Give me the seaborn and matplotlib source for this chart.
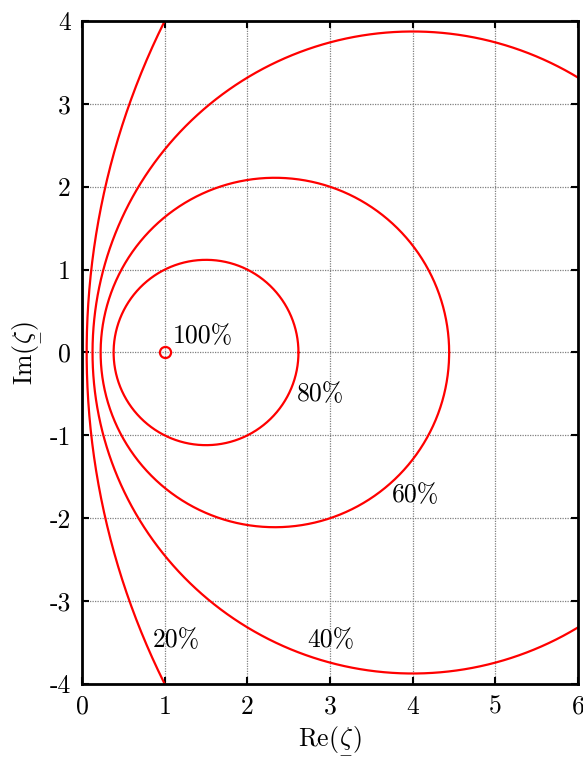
import numpy as np
import pandas as pd
import matplotlib
matplotlib.use("Agg")
import matplotlib.pyplot as plt
import seaborn as sns

# cercles de rendement constant (centre sur l'axe reel, rayon)
rendements = ["20%", "40%", "60%", "80%"]
centres = [9.0, 4.0, 2.333, 1.5]
rayons = [8.944, 3.873, 2.108, 1.118]

# positions des etiquettes
etiq_x = [0.86, 2.72, 3.75, 2.6]
etiq_y = [-3.47, -3.47, -1.72, -0.5]

point_100 = (1.0, 0.0)

x_ticks = [0, 1, 2, 3, 4, 5, 6]
y_ticks = [-4, -3, -2, -1, 0, 1, 2, 3, 4]

sns.set_style("white")
plt.rcParams["font.family"] = ["cmr10"]
plt.rcParams["mathtext.fontset"] = "cm"
plt.rcParams["axes.unicode_minus"] = False
plt.rcParams["axes.formatter.use_mathtext"] = True
plt.rcParams["text.color"] = "black"
plt.rcParams["axes.labelcolor"] = "black"
plt.rcParams["xtick.color"] = "black"
plt.rcParams["ytick.color"] = "black"

fs = 18.5

fig = plt.figure(figsize=(5.83, 7.57), dpi=100)
ax = fig.add_axes([0.1407, 0.0964, 0.8508, 0.8759])

t = np.linspace(0, 2 * np.pi, 1000)
for nom, c, r in zip(rendements, centres, rayons):
    df = pd.DataFrame({"x": c + r * np.cos(t), "y": r * np.sin(t)})
    sns.lineplot(data=df, x="x", y="y", sort=False, estimator=None,
                 color="red", lw=1.6, ax=ax)

ax.plot(*point_100, marker="o", ms=8, mfc="none", mec="red", mew=1.6)
ax.text(point_100[0] + 0.1, 0.2, "100%", fontsize=fs, ha="left", va="center")
for nom, x, y in zip(rendements, etiq_x, etiq_y):
    ax.text(x, y, nom, fontsize=fs, ha="left", va="center")

ax.set_xlim(0, 6)
ax.set_ylim(-4, 4)
ax.set_xticks(x_ticks)
ax.set_yticks(y_ticks)
ax.set_xticklabels([str(v) for v in x_ticks], fontsize=fs)
ax.set_yticklabels([str(v) for v in y_ticks], fontsize=fs)
ax.set_xlabel(r"Re($\underset{-}{\zeta}$)", fontsize=fs, labelpad=4)
ax.set_ylabel(r"Im($\underset{-}{\zeta}$)", fontsize=fs, labelpad=6)

ax.grid(True, color="gray", linestyle=(0, (1, 1)), lw=0.9)
ax.tick_params(direction="in", length=5, width=1.5, top=True, right=True,
               bottom=True, left=True, pad=8)
for s in ax.spines.values():
    s.set_linewidth(2)
    s.set_color("black")

plt.savefig("out.png", dpi=100)
